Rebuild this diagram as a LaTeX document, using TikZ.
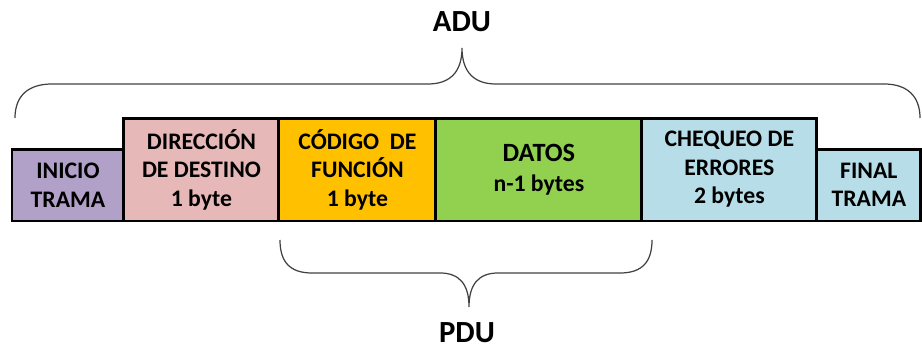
\documentclass[tikz,border=0pt]{standalone}
\usepackage{fontspec}
\setmainfont{Carlito}
\usetikzlibrary{positioning}
\definecolor{inicioColor}{HTML}{B1A0C7}
\definecolor{dirColor}{HTML}{E6B8B7}
\definecolor{codColor}{HTML}{FFC000}
\definecolor{datColor}{HTML}{92D050}
\definecolor{cheqColor}{HTML}{B7DEE8}
\tikzset{
    campo/.style={
        draw, rectangle, line width=1.7pt, outer sep=0pt, inner sep=1pt, align=center, text=black, font=\fontsize{13.5}{16.2}\selectfont\bfseries
    },
    bajo/.style={
        campo, minimum height=1.44cm
    },
    alto/.style={
        campo, minimum height=2.06cm
    },
    llave/.style={
        draw=black!75, line width=0.7pt
    },
    titulo/.style={
        font=\fontsize{17.5}{21}\selectfont\bfseries, text=black
    }
}

\begin{document}
\begin{tikzpicture}[x=0.02cm, y=-0.02cm]  % coordenadas en pixeles

    \useasboundingbox (0,0) rectangle (922,350);

    % campos de la trama
    \node (inicio) [bajo, fill=inicioColor, minimum width=2.24cm, anchor=south west] at (12,221) {INICIO\\TRAMA};
    \node (direccion) [alto, fill=dirColor, minimum width=3.10cm, above right=0pt and 0pt of inicio.south east] {DIRECCIÓN\\DE DESTINO\\1 byte};
    \node (codigo) [alto, fill=codColor, minimum width=3.14cm, right=0pt of direccion] {CÓDIGO\ \ DE\\FUNCIÓN\\1 byte};
    \node (datos) [alto, fill=datColor, minimum width=4.12cm, right=0pt of codigo] {{\fontsize{15}{18}\selectfont DATOS}\\[1pt]n-1 bytes};
    \node (chequeo) [alto, fill=cheqColor, minimum width=3.50cm, right=0pt of datos] {CHEQUEO DE\\ERRORES\\2 bytes};
    \node (final) [bajo, fill=cheqColor, minimum width=2.08cm, above right=0pt and 0pt of chequeo.south east] {FINAL\\TRAMA};

    % llaves
    \node (adu) [titulo] at (462,22) {ADU};
    \node (pdu) [titulo] at (467,333) {PDU};
    \draw [llave] (15,118) .. controls (15,96) and (28,84) .. (52,84) -- (428,84)
        .. controls (450,84) and (462,72) .. (462,48)
        .. controls (462,72) and (474,84) .. (496,84) -- (884,84)
        .. controls (907,84) and (920,96) .. (920,118);
    \draw [llave] (280,240) .. controls (280,262) and (290,273) .. (312,273) -- (440,273)
        .. controls (460,273) and (469,285) .. (469,307)
        .. controls (469,285) and (478,273) .. (498,273) -- (620,273)
        .. controls (642,273) and (652,262) .. (652,240);

\end{tikzpicture}
\end{document}
